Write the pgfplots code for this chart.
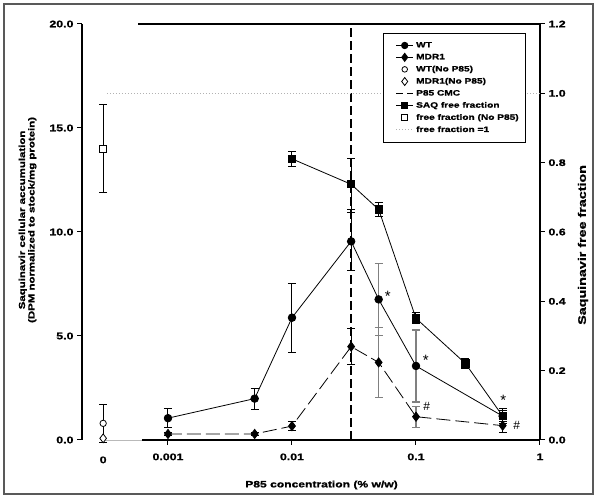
\documentclass[border=0pt]{standalone}
\usepackage{fontspec}
\setmainfont{Liberation Sans}[FakeStretch=1.3, BoldFeatures={FakeBold=1.2}]
\newfontfamily\symfont{Liberation Sans}
\usepackage{pgfplots}
\pgfplotsset{compat=1.18}
\pgfplotsset{
  myleg/.style={legend image code/.code={\path (-7pt,0pt); \draw[mark repeat=2,mark phase=2,##1] plot coordinates {(0cm,0cm) (0.3cm,0cm) (0.6cm,0cm)};}},
  ebar/.style={only marks, mark=none, forget plot,
    error bars/.cd, y dir=both, y explicit,
    error bar style={draw=#1, line width=1pt},
    error mark options={rotate=90, draw=#1, mark size=4pt, line width=1pt}},
  gbar/.style={only marks, mark=none, forget plot,
    error bars/.cd, y dir=both, y explicit,
    error bar style={draw=black!50, line width=1.6pt},
    error mark options={rotate=90, draw=black!50, mark size=4pt, line width=1.2pt}},
}
\begin{document}
\begin{tikzpicture}
\useasboundingbox (-82pt,-60pt) rectangle (518pt,440pt);
\draw[line width=1.5pt, black!65] (-78pt,-54pt) rectangle (511pt,436pt);

\begin{axis}[
  scale only axis, width=458pt, height=416pt, at={(0pt,0pt)}, anchor=south west,
  xmode=log, xmin=0.0002025, xmax=1, clip=false,
  tick align=outside, major tick length=5pt,
  every tick/.style={black, line width=1pt},
  tick label style={font=\bfseries\fontsize{9.5}{11}\selectfont},
  xminorticks=false, yminorticks=false,
  ymin=0, ymax=20,
  axis y line*=left, axis x line*=bottom,
  x axis line style={draw=none}, y axis line style={line width=1.5pt},
  xtick={0.001,0.01,0.1,1}, xticklabels={0.001,0.01,0.1,1},
  xticklabel style={yshift=-5pt},
  ytick={0,5,10,15,20}, yticklabels={0.0,5.0,10.0,15.0,20.0},
  xlabel={P85 concentration (\% w/w)},
  xlabel style={at={(axis description cs:0.523,0)}, yshift=-45pt, anchor=center, font=\bfseries\fontsize{9.3}{11}\selectfont},
  ylabel={Saquinavir cellular accumulation\\(DPM normalized to stock/mg protein)},
  ylabel style={at={(axis description cs:-0.119,0.529)}, anchor=center, align=center, font=\bfseries\fontsize{8.8}{9.5}\selectfont},
]
% axis frame pieces
\draw[gray!55, line width=0.8pt] (axis cs:0.0003,0) -- (axis cs:0.000617,0);
\draw[black, line width=1.5pt] (axis cs:0.000617,0) -- (axis cs:1,0);
\draw[black, line width=1.5pt] (axis cs:0.000573,20) -- (axis cs:1,20);
\node[font=\bfseries\fontsize{9.5}{11}\selectfont, anchor=north] at (axis cs:0.0003,0) [yshift=-13pt] {0};

% error bars
\addplot[ebar=black] coordinates {(0.001,1.05) +- (0,0.45) (0.005,1.99) +- (0,0.5) (0.01,5.88) +- (0,1.65) (0.03,9.55) +- (0,1.38) (0.5,1.15) +- (0,0.37)};
\addplot[gbar] coordinates {(0.05,6.76) +- (0,1.73) (0.1,3.56) +- (0,1.73)};
\addplot[ebar=black] coordinates {(0.001,0.29) +- (0,0.08) (0.005,0.29) +- (0,0.08) (0.01,0.67) +- (0,0.2) (0.03,4.49) +- (0,0.87) (0.5,0.69) +- (0,0.34)};
\addplot[gbar] coordinates {(0.05,3.73) +- (0,1.68) (0.1,1.12) +- (0,0.5)};
\addplot[ebar=black] coordinates {(0.0003,0.8) +- (0,0.92)};

% CMC line
\addplot[forget plot, black, line width=1.8pt, dash pattern=on 9pt off 4pt] coordinates {(0.03,0) (0.03,20)};

% WT
\addplot[forget plot, black, line width=0.8pt, mark=*, mark size=3.8pt] coordinates {(0.001,1.05) (0.005,1.99) (0.01,5.88) (0.03,9.55) (0.05,6.76) (0.1,3.56) (0.5,1.15)};
% MDR1
\addplot[forget plot, black, line width=0.8pt, dash pattern=on 14pt off 5pt, mark=diamond*, mark size=4.6pt, mark options={solid}] coordinates {(0.001,0.29) (0.005,0.29) (0.01,0.67) (0.03,4.49) (0.05,3.73) (0.1,1.12) (0.5,0.69)};
% no P85
\addplot[forget plot, only marks, mark=*, mark size=3.2pt, line width=0.8pt, mark options={fill=white, draw=black}] coordinates {(0.0003,0.8)};
\addplot[forget plot, only marks, mark=diamond*, mark size=4.4pt, line width=0.8pt, mark options={fill=white, draw=black}] coordinates {(0.0003,0.08)};

% significance marks
\node[font=\symfont\fontsize{15}{15}\selectfont, yshift=-3pt] at (axis cs:0.0592,7.03) {*};
\node[font=\symfont\fontsize{15}{15}\selectfont, yshift=-3pt] at (axis cs:0.1197,3.98) {*};
\node[font=\symfont\fontsize{15}{15}\selectfont, yshift=-3pt] at (axis cs:0.506,2.05) {*};
\node[font=\symfont\fontsize{12}{12}\selectfont] at (axis cs:0.122,1.63) {\#};
\node[font=\symfont\fontsize{12}{12}\selectfont] at (axis cs:0.649,0.688) {\#};
\end{axis}

\begin{axis}[
  scale only axis, width=458pt, height=416pt, at={(0pt,0pt)}, anchor=south west,
  xmode=log, xmin=0.0002025, xmax=1, clip=false,
  tick align=outside, major tick length=5pt,
  every tick/.style={black, line width=1pt},
  tick label style={font=\bfseries\fontsize{9.5}{11}\selectfont},
  xminorticks=false, yminorticks=false,
  ymin=0, ymax=1.2,
  axis y line*=right, axis x line=none,
  y axis line style={line width=1.5pt},
  ytick={0,0.2,0.4,0.6,0.8,1.0,1.2}, yticklabels={0.0,0.2,0.4,0.6,0.8,1.0,1.2},
  ylabel={Saquinavir free fraction},
  ylabel style={at={(axis description cs:1.094,0.469)}, anchor=center, font=\bfseries\fontsize{11}{12}\selectfont},
  legend style={at={(0.657,0.978)}, anchor=north west, draw=black, line width=0.8pt,
    font=\bfseries\fontsize{7.8}{9}\selectfont, inner xsep=5pt, inner ysep=6.5pt, row sep=1pt,
    nodes={inner sep=2pt}},
  legend cell align=left,
]
\addplot[forget plot, gray!60, line width=1pt, dash pattern=on 1pt off 2pt] coordinates {(0.000322,1) (1,1)};
\addplot[ebar=black] coordinates {(0.01,0.811) +- (0,0.022) (0.03,0.7376) +- (0,0.073) (0.05,0.665) +- (0,0.02) (0.1,0.351) +- (0,0.016) (0.25,0.221) +- (0,0.015) (0.5,0.069) +- (0,0.015)};
\addplot[ebar=black] coordinates {(0.0003,0.84) +- (0,0.127)};
\addplot[forget plot, black, line width=0.8pt, mark=square*, mark size=3.6pt] coordinates {(0.01,0.811) (0.03,0.7376) (0.05,0.665) (0.1,0.351) (0.25,0.221) (0.5,0.069)};
\addplot[forget plot, only marks, mark=square*, mark size=3.4pt, line width=0.8pt, mark options={fill=white, draw=black}] coordinates {(0.0003,0.84)};

\addlegendimage{myleg, black, line width=0.9pt, mark=*, mark size=3.2pt}
\addlegendentry{WT}
\addlegendimage{myleg, black, line width=0.9pt, mark=diamond*, mark size=4pt}
\addlegendentry{MDR1}
\addlegendimage{myleg, only marks, black, line width=0.8pt, mark=*, mark size=2.8pt, mark options={fill=white}}
\addlegendentry{WT(No P85)}
\addlegendimage{myleg, only marks, black, line width=0.8pt, mark=diamond*, mark size=4pt, mark options={fill=white}}
\addlegendentry{MDR1(No P85)}
\addlegendimage{myleg, black, line width=1.8pt, dash pattern=on 7pt off 4pt}
\addlegendentry{P85 CMC}
\addlegendimage{myleg, black, line width=0.9pt, mark=square*, mark size=3.2pt}
\addlegendentry{SAQ free fraction}
\addlegendimage{myleg, only marks, black, line width=0.8pt, mark=square*, mark size=3pt, mark options={fill=white}}
\addlegendentry{free fraction (No P85)}
\addlegendimage{myleg, gray!60, line width=1pt, dash pattern=on 1pt off 2pt}
\addlegendentry{free fraction =1}
\end{axis}
\end{tikzpicture}
\end{document}
